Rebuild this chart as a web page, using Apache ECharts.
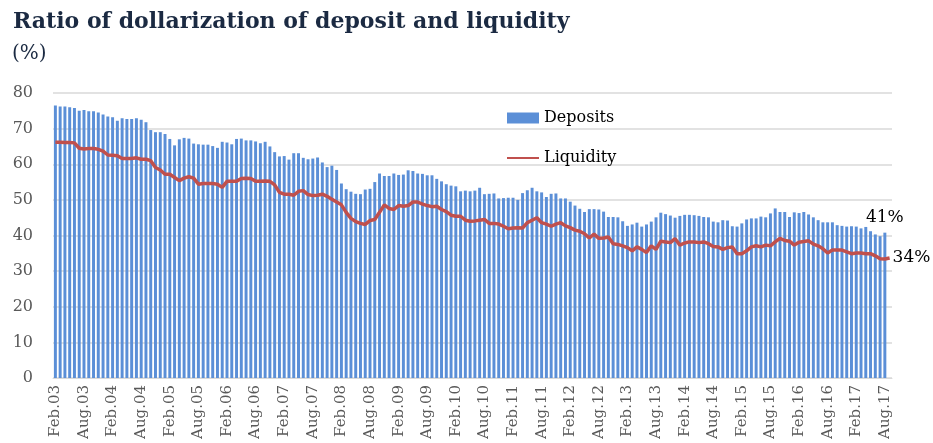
<!DOCTYPE html>
<html>
<head>
<meta charset="utf-8">
<script src="https://cdn.jsdelivr.net/npm/echarts@6/dist/echarts.min.js"></script>
<style>
  html, body { margin: 0; padding: 0; background: #fff; }
  #chart { width: 933px; height: 443px; }
</style>
</head>
<body>
<div id="chart"></div>
<script>
// monthly categories Feb.03 .. Sep.17
const months = ['Jan', 'Feb', 'Mar', 'Apr', 'May', 'Jun', 'Jul', 'Aug', 'Sep', 'Oct', 'Nov', 'Dec'];
const categories = [];
for (let y = 2003; y <= 2017; y++) {
    for (let m = 0; m < 12; m++) {
        if (y === 2003 && m < 1) continue;
        if (y === 2017 && m > 8) continue;
        categories.push(months[m] + '.' + String(y).slice(2));
    }
}

// dollarization of deposits (%)
const deposits = [
    76.5, 76.2, 76.2, 76.0, 75.8, 75.0, 75.2, 74.9, 74.9, 74.5, 74.0, 73.4,
    73.2, 72.2, 72.9, 72.7, 72.7, 72.9, 72.5, 71.8, 69.6, 69.0, 69.0, 68.5,
    67.1, 65.3, 67.0, 67.4, 67.2, 65.8, 65.6, 65.5, 65.5, 65.1, 64.6, 66.3,
    66.1, 65.6, 67.1, 67.2, 66.7, 66.7, 66.4, 65.9, 66.3, 65.0, 63.4, 62.2,
    62.3, 61.3, 63.1, 63.1, 61.8, 61.4, 61.6, 61.9, 60.5, 59.2, 59.6, 58.4,
    54.6, 53.0, 52.3, 51.7, 51.6, 52.9, 53.1, 55.0, 57.4, 56.7, 56.7, 57.4,
    57.0, 57.1, 58.3, 58.1, 57.4, 57.3, 56.9, 56.9, 55.9, 55.2, 54.4, 54.0,
    53.8, 52.4, 52.6, 52.4, 52.6, 53.4, 51.6, 51.7, 51.8, 50.4, 50.5, 50.6,
    50.6, 50.0, 51.9, 52.7, 53.4, 52.4, 52.1, 50.8, 51.7, 51.8, 50.4, 50.4,
    49.5, 48.4, 47.5, 46.6, 47.4, 47.4, 47.3, 46.7, 45.2, 45.2, 45.1, 44.0,
    42.7, 43.1, 43.6, 42.5, 43.1, 43.9, 45.1, 46.4, 46.0, 45.6, 45.0, 45.5,
    45.8, 45.8, 45.7, 45.5, 45.2, 45.1, 43.9, 43.7, 44.3, 44.2, 42.6, 42.5,
    43.4, 44.5, 44.8, 44.8, 45.3, 45.1, 46.2, 47.6, 46.6, 46.6, 45.2, 46.5,
    46.3, 46.6, 45.9, 45.1, 44.3, 43.7, 43.7, 43.7, 42.9, 42.7, 42.5, 42.6,
    42.5, 42.0, 42.4, 41.2, 40.3, 39.8, 40.8, null
];

// dollarization of liquidity (%)
const liquidity = [
    66.2, 66.2, 66.1, 66.1, 66.0, 64.5, 64.3, 64.4, 64.4, 64.2, 63.7, 62.6,
    62.5, 62.4, 61.6, 61.6, 61.6, 61.8, 61.4, 61.4, 61.0, 59.1, 58.4, 57.2,
    57.2, 56.3, 55.4, 56.1, 56.5, 56.1, 54.4, 54.6, 54.6, 54.6, 54.4, 53.5,
    55.2, 55.2, 55.2, 56.0, 56.1, 56.0, 55.2, 55.2, 55.3, 55.2, 54.2, 52.1,
    51.6, 51.6, 51.3, 52.4, 52.6, 51.5, 51.2, 51.3, 51.6, 51.0, 50.2, 49.4,
    48.6, 46.5, 44.8, 43.9, 43.4, 43.1, 44.2, 44.5, 46.5, 48.6, 47.6, 47.3,
    48.4, 48.2, 48.4, 49.4, 49.4, 48.8, 48.4, 48.1, 48.2, 47.3, 46.7, 45.7,
    45.4, 45.4, 44.3, 44.0, 44.1, 44.3, 44.5, 43.4, 43.4, 43.2, 42.6, 41.9,
    42.1, 42.2, 42.1, 43.6, 44.3, 45.0, 43.6, 43.2, 42.6, 43.2, 43.6, 42.7,
    42.2, 41.5, 41.2, 40.5, 39.3, 40.4, 39.2, 39.3, 39.6, 37.7, 37.5, 37.1,
    36.6, 35.7, 36.8, 36.1, 35.2, 37.1, 36.1, 38.4, 38.2, 38.0, 39.1, 37.3,
    37.9, 38.2, 38.2, 38.0, 38.2, 37.7, 36.9, 36.8, 36.1, 36.6, 36.8, 34.9,
    34.9, 35.7, 36.8, 37.1, 36.8, 37.3, 37.1, 38.2, 39.2, 38.6, 38.4, 37.3,
    38.1, 38.3, 38.5, 37.6, 37.1, 36.3, 35.1, 35.9, 35.9, 35.9, 35.4, 34.9,
    35.1, 35.1, 34.9, 34.9, 34.3, 33.5, 33.4, 33.7
];

const yTicks = { min: 0, max: 80, interval: 10 };
const lastDep = 174; // index of last deposit bar (Aug.17)

const serif = '"DejaVu Serif", "Liberation Serif", serif';
const chart = echarts.init(document.getElementById('chart'));
chart.setOption({
    animation: false,
    title: [
        {
            text: 'Ratio of dollarization of deposit and liquidity',
            left: 8,
            top: 11,
            padding: [0, 5],
            textStyle: { fontFamily: serif, fontSize: 22, fontWeight: 'bold', color: '#1b2a42' }
        },
        {
            text: '(%)',
            left: 8,
            top: 44,
            padding: [0, 4],
            textStyle: { fontFamily: serif, fontSize: 20, fontWeight: 'normal', color: '#1b2a42' }
        }
    ],
    grid: { left: 53, right: 41, top: 93, bottom: 65 },
    legend: {
        orient: 'vertical',
        left: 506,
        top: 110,
        padding: 0,
        itemWidth: 32,
        itemHeight: 11,
        itemGap: 24,
        textStyle: { fontFamily: serif, fontSize: 16, color: '#000' },
        data: [
            { name: 'Deposits', icon: 'rect' },
            { name: 'Liquidity', itemStyle: { opacity: 0 } }
        ]
    },
    xAxis: {
        type: 'category',
        data: categories,
        axisLine: { lineStyle: { color: '#d9d9d9', width: 1 } },
        axisTick: { show: false },
        axisLabel: {
            interval: 5,
            rotate: 90,
            fontFamily: serif,
            fontSize: 15,
            color: '#595959',
            margin: 7
        }
    },
    yAxis: {
        type: 'value',
        min: yTicks.min,
        max: yTicks.max,
        interval: yTicks.interval,
        axisLine: { show: false },
        axisTick: { show: false },
        splitLine: { lineStyle: { color: '#d9d9d9', width: 1.5 } },
        axisLabel: { fontFamily: serif, fontSize: 16, color: '#595959', margin: 20 }
    },
    series: [
        {
            name: 'Deposits',
            type: 'bar',
            data: deposits,
            barWidth: '62%',
            itemStyle: { color: '#5b8fd7' },
            label: {
                show: true,
                position: 'top',
                distance: 7,
                fontFamily: serif,
                fontSize: 17,
                color: '#000',
                formatter: function (p) {
                    return p.dataIndex === lastDep ? Math.round(p.value) + '%' : '';
                }
            }
        },
        {
            name: 'Liquidity',
            type: 'line',
            data: liquidity,
            symbol: 'none',
            lineStyle: { color: '#c0504d', width: 3.5 },
            itemStyle: { color: '#c0504d' },
            endLabel: {
                show: true,
                distance: 3,
                fontFamily: serif,
                fontSize: 17,
                color: '#000',
                formatter: function (p) {
                    return Math.round(p.value) + '%';
                }
            }
        }
    ]
});
</script>
</body>
</html>
